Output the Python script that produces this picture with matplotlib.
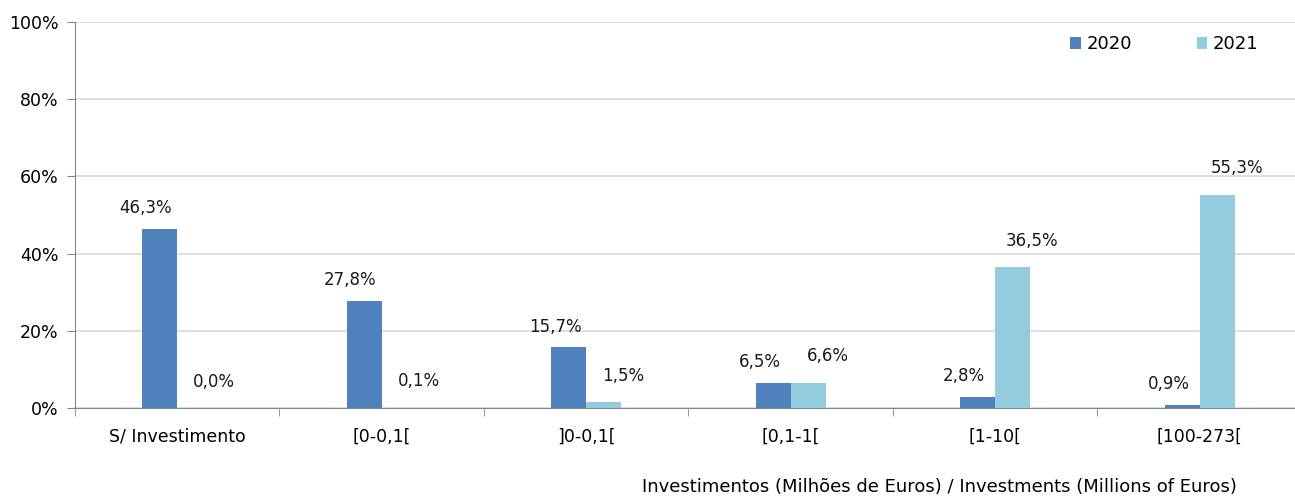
import numpy as np
from matplotlib import pyplot as plt

categories = ["S/ Investimento", "[0-0,1[", "]0-0,1[", "[0,1-1[", "[1-10[", "[100-273["]
v2020 = [46.3, 27.8, 15.7, 6.5, 2.8, 0.9]
v2021 = [0.0, 0.1, 1.5, 6.6, 36.5, 55.3]
yticks = [0, 20, 40, 60, 80, 100]

plt.rcParams['font.family'] = ['DejaVu Sans']

fig = plt.figure(figsize=(12.95, 4.97), dpi=100)
ax = fig.add_axes([0.0579, 0.179, 0.9475, 0.7767])

x = np.arange(len(categories))
w = 0.17
b1 = ax.bar(x - w / 2, v2020, w, color="#4F81BD", label="2020", zorder=3)
b2 = ax.bar(x + w / 2, v2021, w, color="#93CDDD", label="2021", zorder=3)

# data labels
for xi, v in zip(x, v2020):
    ax.annotate(("%.1f%%" % v).replace(".", ","), (xi - w / 2, v), xytext=(-10, 15),
                textcoords="offset points", ha="center", va="center", fontsize=12, color="#1a1a1a")
for xi, v in zip(x, v2021):
    ax.annotate(("%.1f%%" % v).replace(".", ","), (xi + w / 2, v), xytext=(14, 19),
                textcoords="offset points", ha="center", va="center", fontsize=12, color="#1a1a1a")

ax.set_xlim(-0.5, len(categories) - 0.5)
ax.set_ylim(0, 100)
ax.set_yticks(yticks)
ax.set_yticklabels(["%d%%" % t for t in yticks], fontsize=12.5)
ax.yaxis.grid(True, color="#D9D9D9", linewidth=1.2, zorder=0)
ax.tick_params(axis="y", length=6, color="#868686", pad=6)

ax.set_xticks(x)
ax.set_xticklabels(categories, fontsize=12.5)
ax.tick_params(axis="x", which="major", length=0, pad=14)
ax.set_xticks(np.arange(len(categories) + 1) - 0.5, minor=True)
ax.tick_params(axis="x", which="minor", length=6, color="#868686")

for s in ["top", "right"]:
    ax.spines[s].set_visible(False)
for s in ["left", "bottom"]:
    ax.spines[s].set_color("#868686")

fig.legend(handles=[b1, b2], loc="center", bbox_to_anchor=(0.899, 0.911), ncol=2,
           frameon=False, fontsize=13, handlelength=0.6, handleheight=0.6,
           handletextpad=0.3, columnspacing=3.6)

fig.text(0.955, 0.02, "Investimentos (Milhões de Euros) / Investments (Millions of Euros)",
         ha="right", va="center", fontsize=13)

fig.savefig("out.png", dpi=100)
